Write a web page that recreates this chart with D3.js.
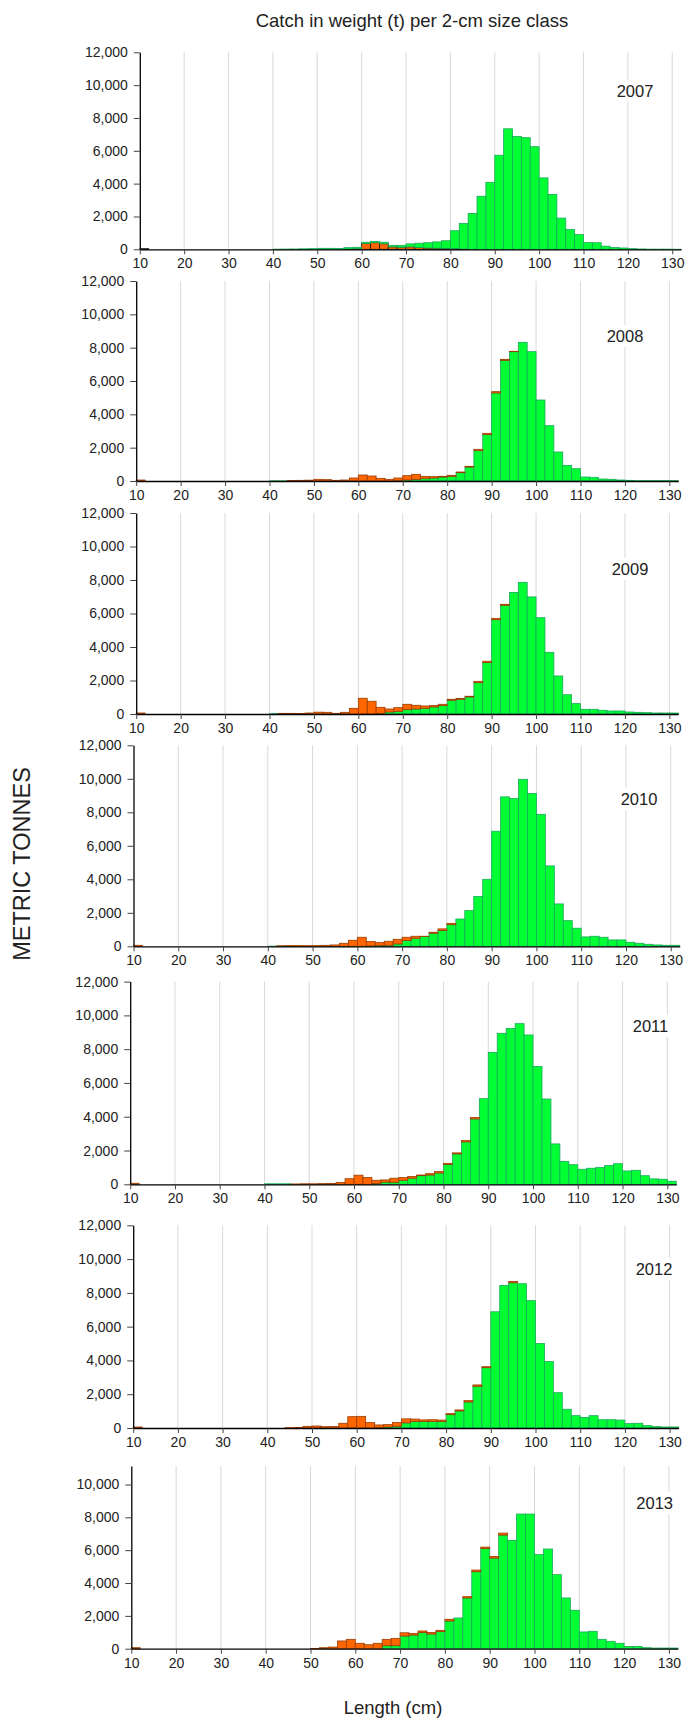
<!DOCTYPE html>
<html>
<head>
<meta charset="utf-8">
<script src="https://cdn.jsdelivr.net/npm/d3@7"></script>
<style>
  body { margin: 0; background: #fff; }
  text { font-family: "Liberation Sans", Arial, sans-serif; fill: #222; }
</style>
</head>
<body>
<div id="chart"></div>
<script>
// lower bound of each 2-cm size class
const bins = [10, 12, 14, 16, 18, 20, 22, 24, 26, 28, 30, 32, 34, 36, 38,
  40, 42, 44, 46, 48, 50, 52, 54, 56, 58, 60, 62, 64, 66, 68,
  70, 72, 74, 76, 78, 80, 82, 84, 86, 88, 90, 92, 94, 96, 98,
  100, 102, 104, 106, 108, 110, 112, 114, 116, 118, 120, 122, 124, 126, 128, 130]

const xTicks = [10, 20, 30, 40, 50, 60, 70, 80, 90, 100, 110, 120, 130]
const yTicks = [0, 2000, 4000, 6000, 8000, 10000, 12000]
const yTicks2013 = [0, 2000, 4000, 6000, 8000, 10000]

const zeros15 = [0, 0, 0, 0, 0, 0, 0, 0, 0, 0, 0, 0, 0, 0, 0]
const tail16 = [0, 0, 0, 0, 0, 0, 0, 0, 0, 0, 0, 0, 0, 0, 0, 0]

const green2007 = [].concat(zeros15,
  [10, 15, 20, 30, 40, 60, 60, 50, 80, 80, 70, 80, 90, 90, 110],
  [180, 260, 320, 380, 460, 1080, 1550, 2180, 3230, 4080, 5730, 7340, 6880, 6800, 6250],
  [4350, 3340, 1900, 1200, 900, 410, 400, 190, 110, 80, 40, 20, 10, 10, 10, 5])
const orange2007 = [].concat([40, 0, 0, 0, 0, 0, 0, 0, 0, 0, 0, 0, 0, 0, 0],
  [0, 0, 0, 0, 0, 0, 0, 0, 20, 40, 360, 400, 340, 150, 130],
  [150, 110, 80, 70, 60, 50, 20, 0, 0, 0, 0, 0, 0, 0, 0],
  tail16)

const green2008 = [].concat(zeros15,
  [10, 10, 10, 10, 10, 0, 0, 0, 0, 0, 0, 0, 0, 0, 20],
  [60, 100, 140, 180, 240, 280, 500, 840, 1820, 2780, 5280, 7240, 7760, 8320, 7760],
  [4860, 3320, 1740, 940, 740, 240, 220, 120, 100, 60, 40, 20, 20, 20, 20, 20])
const orange2008 = [].concat([60, 0, 0, 0, 0, 0, 0, 0, 0, 0, 0, 0, 0, 0, 0],
  [0, 0, 20, 30, 40, 100, 80, 40, 60, 180, 360, 300, 160, 100, 160],
  [260, 300, 140, 80, 40, 60, 40, 40, 80, 80, 80, 60, 20, 0, 0],
  tail16)

const green2009 = [].concat(zeros15,
  [20, 20, 10, 0, 0, 0, 0, 0, 0, 0, 0, 0, 40, 120, 160],
  [260, 300, 340, 420, 500, 820, 880, 1020, 1870, 3070, 5630, 6490, 7260, 7860, 6990],
  [5750, 3680, 2270, 1150, 620, 280, 280, 220, 180, 180, 120, 100, 80, 60, 60, 60])
const orange2009 = [].concat([60, 0, 0, 0, 0, 0, 0, 0, 0, 0, 0, 0, 0, 0, 0],
  [0, 20, 30, 30, 60, 110, 100, 40, 100, 340, 940, 760, 360, 180, 220],
  [320, 220, 140, 80, 80, 60, 40, 40, 80, 80, 80, 60, 0, 0, 0],
  tail16)

const green2010 = [].concat(zeros15,
  [10, 10, 10, 0, 0, 0, 0, 0, 0, 0, 0, 20, 40, 60, 140],
  [340, 480, 590, 780, 940, 1290, 1630, 2130, 2970, 4000, 6870, 8920, 8820, 9970, 9130],
  [7880, 4800, 2530, 1530, 1080, 560, 600, 540, 380, 380, 240, 180, 120, 80, 60, 60])
const orange2010 = [].concat([60, 0, 0, 0, 0, 0, 0, 0, 0, 0, 0, 0, 0, 0, 0],
  [0, 20, 30, 40, 40, 40, 60, 80, 180, 360, 540, 260, 180, 240, 280],
  [200, 120, 10, 60, 100, 80, 0, 0, 0, 0, 0, 0, 0, 0, 0],
  tail16)

const green2011 = [].concat(zeros15,
  [30, 30, 30, 0, 0, 0, 0, 0, 0, 0, 0, 0, 40, 130, 120],
  [240, 360, 510, 550, 670, 1180, 1800, 2510, 3870, 5070, 7810, 8940, 9230, 9510, 8840],
  [6980, 5050, 2390, 1360, 1160, 890, 950, 990, 1110, 1220, 790, 830, 510, 320, 300, 180])
const orange2011 = [].concat([60, 0, 0, 0, 0, 0, 0, 0, 0, 0, 0, 0, 0, 0, 0],
  [0, 0, 0, 20, 30, 30, 40, 50, 110, 330, 540, 400, 200, 130, 240],
  [160, 100, 40, 80, 80, 60, 60, 80, 80, 0, 0, 0, 0, 0, 0],
  tail16)

const green2012 = [].concat(zeros15,
  [0, 0, 0, 0, 0, 0, 0, 0, 0, 0, 0, 0, 20, 60, 100],
  [300, 390, 380, 390, 390, 790, 1010, 1540, 2470, 3570, 6880, 8440, 8600, 8540, 7540],
  [5010, 3930, 2090, 1110, 730, 630, 730, 490, 490, 470, 260, 280, 140, 80, 60, 60])
const orange2012 = [].concat([60, 0, 0, 0, 0, 0, 0, 0, 0, 0, 0, 0, 0, 0, 0],
  [0, 0, 20, 30, 100, 120, 80, 90, 280, 670, 690, 320, 160, 140, 220],
  [240, 140, 100, 100, 80, 60, 60, 80, 80, 60, 0, 0, 80, 0, 0],
  tail16)

const green2013 = [].concat(zeros15,
  [0, 0, 0, 0, 0, 0, 20, 0, 0, 0, 0, 0, 0, 180, 180],
  [770, 830, 980, 890, 1040, 1690, 1870, 3090, 4690, 6110, 5520, 6920, 6600, 8200, 8200],
  [5730, 6070, 4510, 3090, 2340, 1020, 1060, 570, 450, 330, 140, 140, 60, 40, 40, 40])
const orange2013 = [].concat([60, 0, 0, 0, 0, 0, 0, 0, 0, 0, 0, 0, 0, 0, 0],
  [0, 0, 0, 0, 0, 20, 40, 100, 470, 570, 330, 240, 330, 390, 450],
  [200, 100, 100, 100, 80, 100, 0, 80, 100, 80, 100, 120, 0, 0, 0],
  tail16)

// panel geometry (positions only)
const panels = [
  { year: '2007', green: green2007, orange: orange2007, ymax: 12000, ticks: yTicks, x0: 139.8, ppc: 4.437, base: 249.3, top: 52.3, lx: 635, ly: 91, orangeBelow: true },
  { year: '2008', green: green2008, orange: orange2008, ymax: 12000, ticks: yTicks, x0: 136.2, ppc: 4.443, base: 481, top: 281, lx: 625, ly: 336 },
  { year: '2009', green: green2009, orange: orange2009, ymax: 12000, ticks: yTicks, x0: 136.2, ppc: 4.443, base: 714, top: 513, lx: 630, ly: 569 },
  { year: '2010', green: green2010, orange: orange2010, ymax: 12000, ticks: yTicks, x0: 133.5, ppc: 4.477, base: 946.3, top: 745.3, lx: 639, ly: 799 },
  { year: '2011', green: green2011, orange: orange2011, ymax: 12000, ticks: yTicks, x0: 130.2, ppc: 4.476, base: 1184.3, top: 981.6, lx: 650.5, ly: 1026 },
  { year: '2012', green: green2012, orange: orange2012, ymax: 12000, ticks: yTicks, x0: 133.2, ppc: 4.47, base: 1428, top: 1225.3, lx: 654, ly: 1269 },
  { year: '2013', green: green2013, orange: orange2013, ymax: 11127, ticks: yTicks2013, x0: 131.3, ppc: 4.48, base: 1648.7, top: 1466, lx: 654.7, ly: 1503 }
]

const svg = d3.select('#chart')
  .append('svg')
  .attr('width', 690)
  .attr('height', 1720)

svg.append('text')
  .attr('x', 412)
  .attr('y', 26.5)
  .attr('text-anchor', 'middle')
  .style('font-size', '18.5px')
  .text('Catch in weight (t) per 2-cm size class')

svg.append('text')
  .attr('transform', 'translate(30,864) rotate(-90)')
  .attr('text-anchor', 'middle')
  .style('font-size', '23.5px')
  .text('METRIC TONNES')

svg.append('text')
  .attr('x', 393)
  .attr('y', 1714)
  .attr('text-anchor', 'middle')
  .style('font-size', '18.5px')
  .text('Length (cm)')

panels.forEach(function (p) {
  const x = d3.scaleLinear().domain([10, 132]).range([p.x0, p.x0 + 122 * p.ppc])
  const y = d3.scaleLinear().domain([0, p.ymax]).range([p.base, p.top])
  const g = svg.append('g')

  g.selectAll('.grid')
    .data(xTicks.slice(1))
    .enter()
    .append('line')
    .attr('x1', function (d) { return x(d) })
    .attr('x2', function (d) { return x(d) })
    .attr('y1', p.top)
    .attr('y2', p.base)
    .attr('stroke', '#d9d9d9')
    .attr('stroke-width', 1)

  // year label sits on a white patch that breaks the gridlines
  const label = g.append('text')
    .attr('x', p.lx)
    .attr('y', p.ly)
    .attr('dy', '0.36em')
    .attr('text-anchor', 'middle')
    .style('font-size', '16.5px')
    .attr('fill', '#111')
    .text(p.year)
  const bb = label.node().getBBox()
  g.append('rect')
    .attr('x', bb.x - 3)
    .attr('y', bb.y - 2)
    .attr('width', bb.width + 6)
    .attr('height', bb.height + 4)
    .attr('fill', '#fff')
  label.raise()

  const rows = bins.map(function (b, i) {
    return { bin: b, green: p.green[i], orange: p.orange[i] }
  })
  const keys = p.orangeBelow ? ['orange', 'green'] : ['green', 'orange']
  const series = d3.stack().keys(keys)(rows)

  const fills = { green: '#00ff33', orange: '#ff6600' }
  const strokes = { green: '#18a85a', orange: p.orangeBelow ? '#111' : '#9a3c00' }

  series.forEach(function (s) {
    g.selectAll(null)
      .data(s.filter(function (d) { return d[1] - d[0] > 0 }))
      .enter()
      .append('rect')
      .attr('x', function (d) { return x(d.data.bin) })
      .attr('width', function (d) { return x(d.data.bin + 2) - x(d.data.bin) })
      .attr('y', function (d) { return y(d[1]) })
      .attr('height', function (d) { return y(d[0]) - y(d[1]) })
      .attr('fill', fills[s.key])
      .attr('stroke', strokes[s.key])
      .attr('stroke-width', 0.8)
  })

  const yAxis = g.append('g')
    .attr('transform', 'translate(' + p.x0 + ',0)')
    .call(d3.axisLeft(y).tickValues(p.ticks).tickFormat(d3.format(',')).tickSize(6).tickPadding(6).tickSizeOuter(0))
  const xAxis = g.append('g')
    .attr('transform', 'translate(0,' + p.base + ')')
    .call(d3.axisBottom(x).tickValues(xTicks).tickSize(5).tickPadding(4).tickSizeOuter(0))

  ;[yAxis, xAxis].forEach(function (a) {
    a.select('.domain').attr('stroke', '#000').attr('stroke-width', 1.3)
    a.selectAll('.tick line').attr('stroke', '#444')
    a.selectAll('text').style('font-size', '14px').attr('fill', '#222')
  })
})
</script>
</body>
</html>
